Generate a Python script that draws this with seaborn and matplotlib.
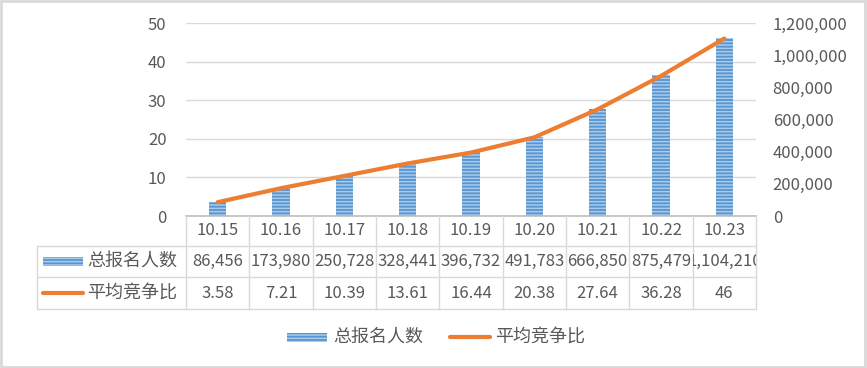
import numpy as np
import pandas as pd
import matplotlib
matplotlib.use("Agg")
import matplotlib.pyplot as plt
import seaborn as sns
from matplotlib.lines import Line2D
from matplotlib.patches import Rectangle
from matplotlib.ticker import FuncFormatter
from matplotlib.transforms import blended_transform_factory, Bbox, TransformedBbox

# ---------------- data ----------------
dates = ['10.15', '10.16', '10.17', '10.18', '10.19', '10.20', '10.21', '10.22', '10.23']
total_applicants = [86456, 173980, 250728, 328441, 396732, 491783, 666850, 875479, 1104210]
avg_ratio = [3.58, 7.21, 10.39, 13.61, 16.44, 20.38, 27.64, 36.28, 46]
ratio_labels = ['3.58', '7.21', '10.39', '13.61', '16.44', '20.38', '27.64', '36.28', '46']
series_names = ['总报名人数', '平均竞争比']
left_ticks = [0, 10, 20, 30, 40, 50]
right_ticks = [0, 200000, 400000, 600000, 800000, 1000000, 1200000]

# ---------------- style ----------------
sns.set_style('white')
plt.rcParams['font.family'] = ['Noto Sans CJK SC', 'DejaVu Sans']
plt.rcParams['hatch.linewidth'] = 1.1

BLUE = '#5794d0'
STRIPE = '#a9cbec'
ORANGE = '#ed7d31'
TXT = '#595959'
GRID = '#d9d9d9'
NUM_FS = 12
CJK_FS = 13

W, H = 867, 368
def fx(x): return x / W
def fy(y): return 1 - y / H

fig = plt.figure(figsize=(W / 100, H / 100), dpi=100)
fig.patch.set_facecolor('white')
fig.add_artist(Rectangle((0.001, 0.002), 0.997, 0.995, transform=fig.transFigure,
                         fill=False, edgecolor=GRID, linewidth=2))

ax = fig.add_axes([fx(186), fy(216), (756 - 186) / W, (216 - 23) / H])
ax2 = ax.twinx()
ax3 = ax.twinx()

df = pd.DataFrame({'date': dates, 'total': total_applicants,
                   'ratio': avg_ratio, 'pos': np.arange(len(dates))})

# bars (right axis)
sns.barplot(data=df, x='date', y='total', ax=ax2, color=BLUE, width=0.27,
            saturation=1)
for p in ax2.patches:
    p.set_facecolor(BLUE)
    p.set_edgecolor(STRIPE)
    p.set_linewidth(0)
    p.set_hatch('-----')

# line (left axis scale)
sns.lineplot(data=df, x='pos', y='ratio', ax=ax3, color=ORANGE, linewidth=3.0,
             solid_capstyle='round')

ax.set_xlim(-0.5, len(dates) - 0.5)
ax.set_ylim(0, 50)
ax3.set_ylim(0, 50)
ax2.set_ylim(0, 1200000)

ax.set_yticks(left_ticks)
ax.yaxis.grid(True, color=GRID, linewidth=1)
ax.set_axisbelow(True)
ax.tick_params(axis='y', length=0, pad=14, labelsize=NUM_FS, labelcolor=TXT)
ax2.set_yticks(right_ticks)
ax2.yaxis.set_major_formatter(FuncFormatter(lambda v, p: f'{int(v):,}'))
ax2.tick_params(axis='y', length=0, pad=12, labelsize=NUM_FS, labelcolor=TXT)
ax3.set_yticks([])
for a in (ax, ax2, ax3):
    a.set_xlabel('')
    a.set_ylabel('')
    for s in a.spines.values():
        s.set_visible(False)
ax.set_xticks([])
ax.spines['bottom'].set_visible(True)
ax.spines['bottom'].set_color('#bfbfbf')
ax.spines['bottom'].set_linewidth(1.2)

# ---------------- data table ----------------
bt = blended_transform_factory(ax.transData, fig.transFigure)
n = len(dates)
row_y = [216, 246, 277, 309]
for y in row_y[1:]:
    fig.add_artist(Line2D([fx(37), fx(756)], [fy(y), fy(y)], color=GRID, lw=1,
                          transform=fig.transFigure))
for i in range(n + 1):
    fig.add_artist(Line2D([i - 0.5, i - 0.5], [fy(216), fy(309)], color=GRID, lw=1,
                          transform=bt))
fig.add_artist(Line2D([fx(37), fx(37)], [fy(246), fy(309)], color=GRID, lw=1,
                      transform=fig.transFigure))

def cell_text(i, ytop, ybot, s):
    t = fig.text(i, fy((ytop + ybot) / 2), s, transform=bt, ha='center', va='center',
                 fontsize=NUM_FS, color=TXT)
    t.set_clip_box(TransformedBbox(Bbox([[i - 0.5, fy(ybot)], [i + 0.5, fy(ytop)]]), bt))
    t.set_clip_on(True)

for i in range(n):
    cell_text(i, 216, 246, dates[i])
    cell_text(i, 246, 277, f'{total_applicants[i]:,}')
    cell_text(i, 277, 309, ratio_labels[i])

def bar_key(x0, x1, yc, h=9):
    fig.add_artist(Rectangle((fx(x0), fy(yc + h / 2)), (x1 - x0) / W, h / H,
                             transform=fig.transFigure, facecolor=BLUE,
                             edgecolor=STRIPE, linewidth=0, hatch='-----'))

def line_key(x0, x1, yc):
    fig.add_artist(Line2D([fx(x0), fx(x1)], [fy(yc), fy(yc)], color=ORANGE, lw=3.0,
                          solid_capstyle='round', transform=fig.transFigure))

# row headers
bar_key(43, 83, 261)
fig.text(fx(87), fy(261), series_names[0], ha='left', va='center', fontsize=CJK_FS, color=TXT)
line_key(43, 83, 293)
fig.text(fx(87), fy(293), series_names[1], ha='left', va='center', fontsize=CJK_FS, color=TXT)

# bottom legend
bar_key(287, 327, 337)
fig.text(fx(333), fy(337), series_names[0], ha='left', va='center', fontsize=CJK_FS, color=TXT)
line_key(450, 490, 337)
fig.text(fx(495), fy(337), series_names[1], ha='left', va='center', fontsize=CJK_FS, color=TXT)

fig.savefig('out.png', dpi=100, facecolor='white')
